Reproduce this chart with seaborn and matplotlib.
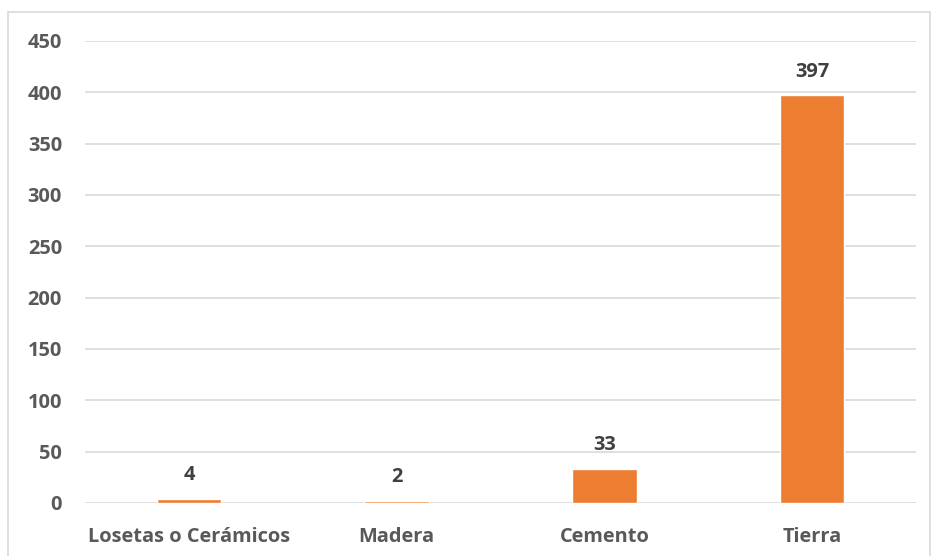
import pandas as pd
import seaborn as sns
import matplotlib
matplotlib.use("Agg")
from matplotlib import pyplot as plt
from matplotlib.patches import Rectangle

categories = ["Losetas o Cerámicos", "Madera", "Cemento", "Tierra"]
values = [4, 2, 33, 397]

df = pd.DataFrame({"piso": categories, "n": values})

sns.set_style("white")
plt.rcParams['font.family'] = ['Open Sans', 'DejaVu Sans']

fig = plt.figure(figsize=(9.32, 5.56), dpi=100)
ax = fig.add_axes([85/932, 53/556, 831/932, 462/556])

sns.barplot(data=df, x="piso", y="n", color="#ED7D31", saturation=1, width=0.31, ax=ax)

ax.set_ylim(0, 450)
ax.set_yticks(range(0, 451, 50))
ax.yaxis.grid(True, color="#D9D9D9", linewidth=1.2)
ax.set_axisbelow(True)
for s in ax.spines.values():
    s.set_visible(False)
ax.set_xlabel("")
ax.set_ylabel("")
ax.tick_params(axis="both", length=0, labelsize=14.4, labelcolor="#595959")
ax.tick_params(axis="y", pad=16.5)
ax.tick_params(axis="x", pad=17.5)
for lab in ax.get_xticklabels() + ax.get_yticklabels():
    lab.set_fontweight("bold")

# etiquetas de valor encima de cada barra
for c in ax.containers:
    ax.bar_label(c, padding=10, fontsize=14.4, fontweight="bold", color="#404040")

fig.patches.append(Rectangle((8/932, -0.01), 922/932, 1 - 12/556 + 0.01,
                             transform=fig.transFigure, fill=False,
                             edgecolor="#D9D9D9", linewidth=1.2))

plt.savefig("out.png", dpi=100)
